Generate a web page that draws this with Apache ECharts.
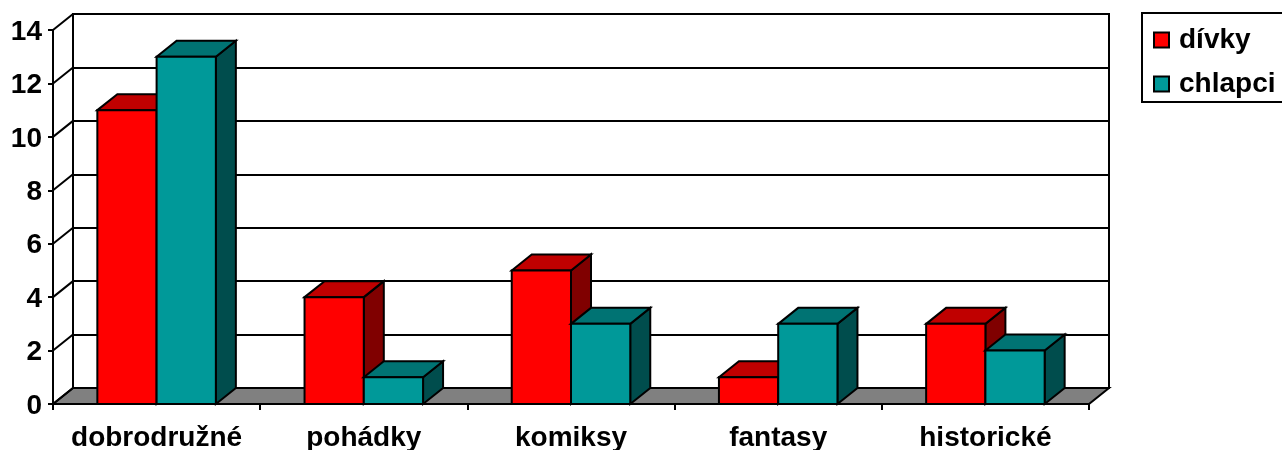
<!DOCTYPE html>
<html><head><meta charset="utf-8">
<script src="https://cdn.jsdelivr.net/npm/echarts@6/dist/echarts.min.js"></script>
<style>html,body{margin:0;padding:0;background:#fff;overflow:hidden}#c{width:1282px;height:450px}</style>
</head><body><div id="c"></div>
<script>
const categories = ['dobrodružné','pohádky','komiksy','fantasy','historické'];
const divky = [11,4,5,1,3];
const chlapci = [13,1,3,3,2];
const yTicks = [0,2,4,6,8,10,12,14];

const DX = 20, DY = 16, BAR = 0.286;
const FONT = '"Liberation Sans", Arial, sans-serif';
const LW = 2;

function barSeries(name, values, slot, front, top, side){
  return {
    type:'custom', name, coordinateSystem:'cartesian2d', xAxisIndex:0, yAxisIndex:0,
    clip:false, z:slot===0?3:4,
    itemStyle:{color:front,borderColor:'#000',borderWidth:LW},
    encode:{x:0,y:1},
    data:values.map((v,i)=>[i,v]),
    renderItem(params,api){
      const c0 = api.coord([api.value(0),0]);
      const c1 = api.coord([api.value(0),api.value(1)]);
      const w = api.size([1,0])[0]*BAR;
      const x0 = c0[0]+(slot-1)*w, x1 = x0+w, yb = c0[1], yt = c1[1];
      const ls = {stroke:'#000',lineWidth:LW,lineJoin:'miter'};
      return {type:'group',children:[
        {type:'polygon',shape:{points:[[x1,yb],[x1+DX,yb-DY],[x1+DX,yt-DY],[x1,yt]]},style:{fill:side,...ls}},
        {type:'polygon',shape:{points:[[x0,yt],[x0+DX,yt-DY],[x1+DX,yt-DY],[x1,yt]]},style:{fill:top,...ls}},
        {type:'rect',shape:{x:x0,y:yt,width:w,height:yb-yt},style:{fill:front,...ls}}
      ]};
    }
  };
}

const option = {
  animation:false,
  backgroundColor:'#fff',
  textStyle:{fontFamily:FONT},
  grid:[
    {left:53,top:30,width:1036,height:374,outerBoundsMode:'none'},
    {left:73,top:14,width:1036,height:374,outerBoundsMode:'none',show:true,borderColor:'#000',borderWidth:LW,backgroundColor:'#fff'}
  ],
  xAxis:[
    {type:'category',gridIndex:0,data:categories,
     axisLine:{lineStyle:{color:'#000',width:LW}},
     axisTick:{show:true,length:6,interval:0,alignWithLabel:false,lineStyle:{color:'#000',width:LW}},
     axisLabel:{color:'#000',fontFamily:FONT,fontWeight:'bold',fontSize:28,margin:20,interval:0}},
    {type:'category',gridIndex:1,data:categories,show:false}
  ],
  yAxis:[
    {type:'value',gridIndex:0,min:0,max:14,interval:2,
     axisLine:{show:true,lineStyle:{color:'#000',width:LW}},
     axisTick:{show:true,length:5,lineStyle:{color:'#000',width:LW}},
     splitLine:{show:false},
     axisLabel:{color:'#000',fontFamily:FONT,fontWeight:'bold',fontSize:28,margin:11,verticalAlign:'top',lineHeight:28,padding:[-12,0,0,0]}},
    {type:'value',gridIndex:1,min:0,max:14,interval:2,
     axisLine:{show:false},axisTick:{show:false},axisLabel:{show:false},
     splitLine:{show:true,lineStyle:{color:'#000',width:LW}}}
  ],
  legend:{
    left:1142,top:13,orient:'vertical',
    data:['dívky','chlapci'],
    icon:'rect',itemWidth:15,itemHeight:15,itemGap:16,
    padding:[13,20,4,11],
    borderColor:'#000',borderWidth:2,
    textStyle:{color:'#000',fontFamily:FONT,fontWeight:'bold',fontSize:28,padding:[0,0,0,5]}
  },
  series:[
    {
      type:'custom',name:'frame',coordinateSystem:'cartesian2d',xAxisIndex:0,yAxisIndex:0,
      clip:false,z:2,silent:true,encode:{x:0,y:1},
      data:yTicks.map(v=>[0,v]),
      renderItem(params,api){
        const cs = params.coordSys;
        const y = api.coord([0,api.value(1)])[1];
        const ls = {stroke:'#000',lineWidth:LW};
        const children = [{type:'line',shape:{x1:cs.x,y1:y,x2:cs.x+DX,y2:y-DY},style:ls}];
        if(api.value(1)===0){
          children.unshift({type:'polygon',shape:{points:[[cs.x,y],[cs.x+DX,y-DY],[cs.x+cs.width+DX,y-DY],[cs.x+cs.width,y]]},style:{fill:'#808080',...ls}});
        }
        return {type:'group',children};
      }
    },
    barSeries('dívky',divky,0,'#ff0000','#c00000','#800000'),
    barSeries('chlapci',chlapci,1,'#009999','#007373','#004d4d')
  ]
};
const chart = echarts.init(document.getElementById('c'),null,{renderer:'canvas'});
chart.setOption(option);
</script></body></html>
